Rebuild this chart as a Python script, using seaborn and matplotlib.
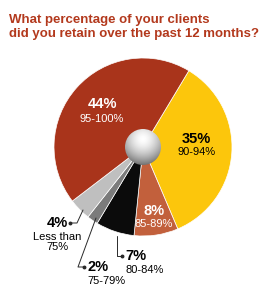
import matplotlib
matplotlib.use('Agg')
import matplotlib.pyplot as plt
import seaborn as sns
import numpy as np
from matplotlib.patches import Circle

sns.set_theme(style='white')
plt.rcParams['font.family'] = ['Liberation Sans Narrow', 'Liberation Sans', 'DejaVu Sans']

# data, clockwise from the upper right
pcts = [35, 8, 7, 2, 4, 44]
ranges = ['90-94%', '85-89%', '80-84%', '75-79%', 'Less than\n75%', '95-100%']
colors = ['#FCC60C', '#C2603C', '#0B0B0B', '#7B7B7B', '#BFBFBF', '#A9341B']
title_lines = ['What percentage of your clients', 'did you retain over the past 12 months?']

W, H = 269, 300
def Y(y):
    # picture rows -> axes y
    return H - y

fig = plt.figure(figsize=(W / 100, H / 100), dpi=100)
ax = fig.add_axes([0, 0, 1, 1])

cx, cy, rad = 143, Y(147), 89
ax.pie(pcts, colors=colors, startangle=59, counterclock=False,
       center=(cx, cy), radius=rad,
       wedgeprops=dict(edgecolor='white', linewidth=0.5))

# shaded hole in the middle
hr = 18
g = np.linspace(-1, 1, 120)
gx, gy = np.meshgrid(g, g)
d = np.sqrt(gx ** 2 + (gy - 0.45) ** 2)
shade = 1 - 0.55 * np.clip(d / 1.45, 0, 1) ** 1.6
hole = Circle((cx, cy), hr, facecolor='none', edgecolor='none')
ax.add_patch(hole)
im = ax.imshow(shade, cmap='gray', vmin=0, vmax=1, origin='lower',
               extent=(cx - hr, cx + hr, cy - hr, cy + hr), zorder=3)
im.set_clip_path(hole)

ax.set_xlim(0, W)
ax.set_ylim(0, H)
ax.set_aspect('equal')
ax.axis('off')

# title, sized so the long line fits the width like the original
tc = '#B3391D'
t1 = fig.text(9 / W, Y(23) / H, title_lines[0], color=tc, fontsize=10,
              fontweight='bold', va='baseline', ha='left')
t2 = fig.text(9 / W, Y(37) / H, title_lines[1], color=tc, fontsize=10,
              fontweight='bold', va='baseline', ha='left')
r = fig.canvas.get_renderer()
w2 = t2.get_window_extent(r).width
fs = 10 * 252 / w2
t1.set_fontsize(fs)
t2.set_fontsize(fs)

big = 10.5
small = 8

# labels inside
ax.text(103, Y(104), f'{pcts[5]}%', color='white', fontsize=big, fontweight='bold', ha='center', va='center')
ax.text(102, Y(119), ranges[5], color='white', fontsize=small, ha='center', va='center')
ax.text(196, Y(139), f'{pcts[0]}%', color='black', fontsize=big, fontweight='bold', ha='center', va='center')
ax.text(197, Y(152), ranges[0], color='black', fontsize=small, ha='center', va='center')
ax.text(154, Y(211), f'{pcts[1]}%', color='white', fontsize=big, fontweight='bold', ha='center', va='center')
ax.text(154, Y(224), ranges[1], color='white', fontsize=small, ha='center', va='center')

# labels outside
ax.text(57, Y(223), f'{pcts[4]}%', color='black', fontsize=big, fontweight='bold', ha='center', va='center')
ax.text(57, Y(242), ranges[4], color='black', fontsize=small, ha='center', va='center', linespacing=1.05)
ax.text(87, Y(267), f'{pcts[3]}%', color='black', fontsize=big, fontweight='bold', ha='left', va='center')
ax.text(87, Y(281), ranges[3], color='black', fontsize=small, ha='left', va='center')
ax.text(125, Y(256), f'{pcts[2]}%', color='black', fontsize=big, fontweight='bold', ha='left', va='center')
ax.text(125, Y(270), ranges[2], color='black', fontsize=small, ha='left', va='center')

# leader lines
leaders = [
    [(70, 223), (77, 223), (83, 210)],
    [(84, 267), (78, 267), (96, 218)],
    [(122, 256), (117, 256), (117, 236)],
]
for pts in leaders:
    xs = [p[0] for p in pts]
    ys = [Y(p[1]) for p in pts]
    ax.plot(xs, ys, color='#2A2A2A', lw=0.7, zorder=4)
    ax.plot(xs[0], ys[0], 'o', color='#2A2A2A', ms=1.8, zorder=4)

fig.savefig('out.png', dpi=100)
